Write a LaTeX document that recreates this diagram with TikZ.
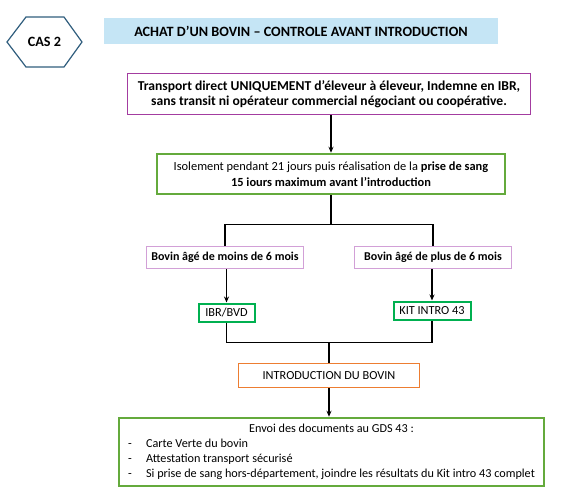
\documentclass[tikz,border=0pt]{standalone}
\usepackage{fontspec}
\setmainfont{Carlito}
\usetikzlibrary{calc}
\usetikzlibrary{arrows.meta}

\definecolor{hexblue}{RGB}{47,93,125}
\definecolor{titleblue}{RGB}{197,229,245}
\definecolor{plum}{RGB}{163,60,160}
\definecolor{lightplum}{RGB}{210,160,215}
\definecolor{leafgreen}{RGB}{100,170,60}
\definecolor{kitgreen}{RGB}{0,176,80}
\definecolor{introorange}{RGB}{237,125,49}

\begin{document}
\begin{tikzpicture}
% pixel grid, y going down
[
    x=1pt, y=-1pt,
    box/.style={draw, inner sep=0pt, align=center, font=\fontsize{12.3}{15}\selectfont},
    boldbox/.style={box, font=\bfseries\fontsize{12}{15}\selectfont},
    link/.style={line width=1.4pt, black},
    arr/.style={link, -{Stealth[length=6pt,width=5pt]}}
]

\useasboundingbox (0,0) rectangle (576,496);

% header
\node[font=\bfseries\fontsize{14.2}{16}\selectfont] (cas) at (44.5,42) {CAS 2};
\draw[hexblue, line width=1.2pt] ($(cas)+(-37.5,0)$) -- ($(cas)+(-18.5,-25)$) -- ($(cas)+(19.5,-25)$)
    -- ($(cas)+(37.5,0)$) -- ($(cas)+(19.5,25)$) -- ($(cas)+(-18.5,25)$) -- cycle;
\node[fill=titleblue, minimum width=394pt, minimum height=26pt, inner sep=0pt,
    font=\bfseries\fontsize{14.2}{16}\selectfont] (title) at (301,31)
    {ACHAT D’UN BOVIN – CONTROLE AVANT INTRODUCTION};

% boxes
\node[boldbox, draw=plum, line width=1.5pt, minimum width=403pt, minimum height=41pt,
    font=\bfseries\fontsize{13.6}{15}\selectfont] (transport) at (329,94)
    {Transport direct UNIQUEMENT d’éleveur à éleveur, Indemne en IBR,\\ sans transit ni opérateur commercial négociant ou coopérative.};
\node[box, draw=leafgreen, line width=2.5pt, minimum width=348pt, minimum height=40pt,
    font=\fontsize{12.4}{16}\selectfont] (isolement) at (331,174)
    {Isolement pendant 21 jours puis réalisation de la \textbf{prise de sang}\\ \textbf{15 iours maximum avant l’introduction}};

\node[boldbox, draw=lightplum, line width=1pt, minimum width=157pt, minimum height=22pt] (moins) at (225,257.5)
    {Bovin âgé de moins de 6 mois};
\node[boldbox, draw=lightplum, line width=1pt, minimum width=157pt, minimum height=22pt] (plus) at (433,257.5)
    {Bovin âgé de plus de 6 mois};

\node[box, draw=kitgreen, line width=2pt, minimum width=56pt, minimum height=18pt] (ibr) at (226.5,312.5) {IBR/BVD};
\node[box, draw=kitgreen, line width=2pt, minimum width=77pt, minimum height=18pt] (kit) at (432,310.5) {KIT INTRO 43};

\node[box, draw=introorange, line width=1.5pt, minimum width=181pt, minimum height=24pt] (intro) at (329,375.5)
    {INTRODUCTION DU BOVIN};
\node[box, draw=leafgreen, line width=2.5pt, minimum width=425pt, minimum height=68pt,
    font=\fontsize{12.2}{15}\selectfont] (envoi) at (331.5,452)
    {\begin{tabular}{@{}p{18pt}@{}l@{}}
     \multicolumn{2}{c}{Envoi des documents au GDS 43 :}\\
     - & Carte Verte du bovin\\
     - & Attestation transport sécurisé\\
     - & Si prise de sang hors-département, joindre les résultats du Kit intro 43 complet
     \end{tabular}};

% connectors
\draw[arr] (isolement.north |- transport.south) -- (isolement.north);
\coordinate (split) at ($(isolement.south)+(0,29)$);
\draw[link] (isolement.south) -- (split);
\draw[link] (moins.north) |- (split) -| (plus.north);
\draw[arr] (ibr.north |- moins.south) -- (ibr.north);
\draw[arr] (kit.north |- plus.south) -- (kit.north);

\coordinate (join) at ($(intro.north)+(0,-20)$);
\draw[link] (ibr.south) |- (join) -| (kit.south);
\draw[link] (join) -- (intro.north);
\draw[arr] (intro.south) -- (intro.south |- envoi.north);

\end{tikzpicture}
\end{document}
